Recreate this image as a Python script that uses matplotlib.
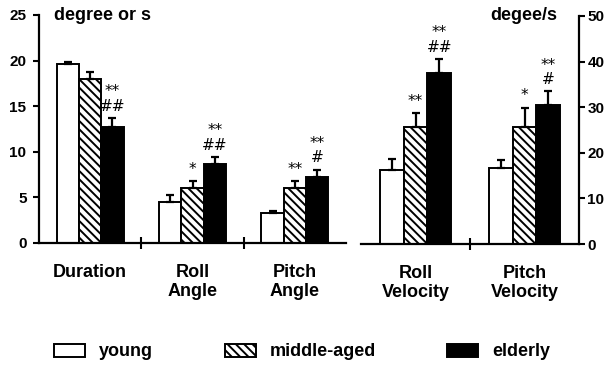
import numpy as np
import matplotlib
matplotlib.use("Agg")
from matplotlib import pyplot as plt
from matplotlib.patches import Patch

plt.rcParams['font.family'] = ['Liberation Sans', 'DejaVu Sans']
plt.rcParams['hatch.linewidth'] = 1.4

# left panel (degree or s)
left_cats = ["Duration", "Roll\nAngle", "Pitch\nAngle"]
left_young = [19.6, 4.45, 3.25]
left_young_err = [0.3, 0.85, 0.3]
left_mid = [17.95, 6.0, 6.0]
left_mid_err = [0.75, 0.8, 0.8]
left_old = [12.7, 8.65, 7.25]
left_old_err = [1.0, 0.8, 0.8]
left_mid_marks = ["", "*", "**"]
left_old_marks = ["**\n##", "**\n##", "**\n#"]

# right panel (degee/s)
right_cats = ["Roll\nVelocity", "Pitch\nVelocity"]
right_young = [16.3, 16.6]
right_young_err = [2.3, 1.8]
right_mid = [25.7, 25.7]
right_mid_err = [3.0, 4.2]
right_old = [37.6, 30.4]
right_old_err = [3.0, 3.1]
right_mid_marks = ["**", "*"]
right_old_marks = ["**\n##", "**\n#"]

groups = ["young", "middle-aged", "elderly"]

fig = plt.figure(figsize=(6.09, 3.68), dpi=100)
axL = fig.add_axes([39/609, 1-243/368, (346-39)/609, 228/368])
axR = fig.add_axes([361/609, 1-244/368, (579-361)/609, 228/368])

w = 0.218
styles = [dict(facecolor='white', hatch=None),
          dict(facecolor='white', hatch='\\\\\\\\'),
          dict(facecolor='black', hatch=None)]


def draw(ax, cats, series, errs, marks, ymax):
    x = np.arange(len(cats)) + 0.5
    for i, (vals, err, st) in enumerate(zip(series, errs, styles)):
        xi = x + (i - 1) * w
        ax.bar(xi, vals, w, edgecolor='black', linewidth=1.4, zorder=2, **st)
        ax.errorbar(xi, vals, yerr=[np.zeros(len(vals)), err], fmt='none',
                    ecolor='black', elinewidth=1.6, capsize=3, capthick=1.6, zorder=3)
        if marks[i] is not None:
            for xx, v, e, m in zip(xi, vals, err, marks[i]):
                if m:
                    ax.annotate(m, (xx, v + e), xytext=(0, 3), textcoords='offset points',
                                ha='center', va='bottom', fontsize=11, linespacing=0.95,
                                family='DejaVu Sans')
    ax.set_xlim(0, len(cats))
    ax.set_ylim(0, ymax)
    ax.set_xticks(x)
    ax.set_xticklabels(cats, fontsize=13, fontweight='bold', va='top')
    ax.tick_params(axis='x', which='major', length=0, pad=15)
    ax.set_xticks(np.arange(1, len(cats)), minor=True)
    ax.tick_params(axis='x', which='minor', direction='inout', length=8, width=1.5)
    ax.spines['top'].set_visible(False)
    for s in ax.spines.values():
        s.set_linewidth(1.6)


draw(axL, left_cats, [left_young, left_mid, left_old],
     [left_young_err, left_mid_err, left_old_err],
     [None, left_mid_marks, left_old_marks], 25)
axL.spines['right'].set_visible(False)
axL.set_yticks(np.arange(0, 26, 5))
axL.tick_params(axis='y', direction='out', length=4, width=1.5, labelsize=11, pad=5)
for t in axL.get_yticklabels():
    t.set_fontweight('bold')
axL.text(0.05, 1.0, "degree or s", transform=axL.transAxes, fontsize=13,
         fontweight='bold', va='center', ha='left')

draw(axR, right_cats, [right_young, right_mid, right_old],
     [right_young_err, right_mid_err, right_old_err],
     [None, right_mid_marks, right_old_marks], 50)
axR.spines['left'].set_visible(False)
axR.yaxis.tick_right()
axR.set_yticks(np.arange(0, 51, 10))
axR.tick_params(axis='y', direction='out', length=4, width=1.5, labelsize=11, pad=2)
for t in axR.get_yticklabels():
    t.set_fontweight('bold')
axR.text(0.9, 1.0, "degee/s", transform=axR.transAxes, fontsize=13,
         fontweight='bold', va='center', ha='right')

legend_x = [54, 225, 447]
for lab, st, lx in zip(groups, styles, legend_x):
    h = Patch(edgecolor='black', linewidth=1.4, **st)
    fig.legend([h], [lab], loc='center left', bbox_to_anchor=(lx/609, 1-352/368),
               frameon=False, borderpad=0, borderaxespad=0, handlelength=1.7,
               handleheight=0.75, handletextpad=0.8,
               prop=dict(size=13, weight='bold'))

fig.savefig("out.png", dpi=100)
